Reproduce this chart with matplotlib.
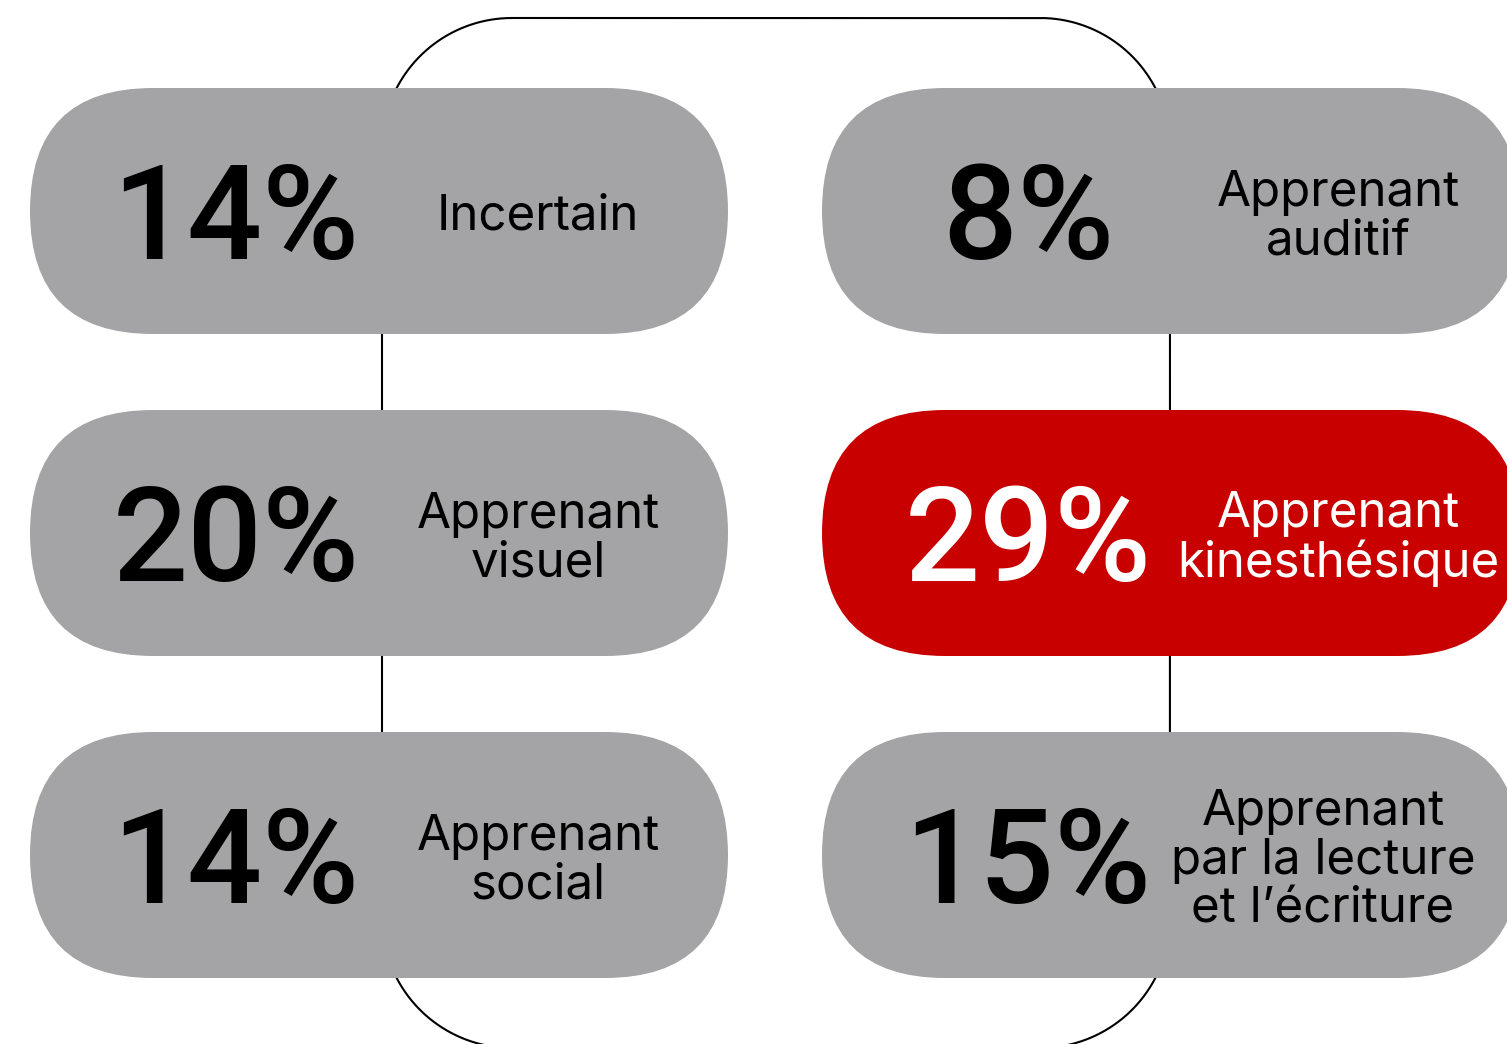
import numpy as np
import matplotlib.pyplot as plt
from matplotlib.patches import FancyBboxPatch

# Learning style shares (percent)
labels = ["Incertain", "Apprenant\nauditif", "Apprenant\nvisuel",
          "Apprenant\nkinesthésique", "Apprenant\nsocial",
          "Apprenant\npar la lecture\net l\u2019écriture"]
values = [14, 8, 20, 29, 14, 15]
highlight = [False, False, False, True, False, False]

GRAY = "#a4a4a6"
RED = "#c80000"

plt.rcParams['font.family'] = ['Inter', 'DejaVu Sans']

fig = plt.figure(figsize=(15.07, 10.44), dpi=100)
ax = fig.add_axes([0, 0, 1, 1])
ax.set_xlim(0, 1507)
ax.set_ylim(1044, 0)
ax.axis('off')

# connector frame behind the pills (rounded rectangle drawn by hand)
fx0, fx1, fy0, fy1, r = 382, 1170, 18, 1048, 130
t = np.linspace(0, np.pi / 2, 40)
xs = np.concatenate([fx0 + r - r * np.cos(t), fx1 - r + r * np.sin(t),
                     fx1 - r + r * np.cos(t), fx0 + r - r * np.sin(t)])
ys = np.concatenate([fy0 + r - r * np.sin(t), fy0 + r - r * np.cos(t),
                     fy1 - r + r * np.sin(t), fy1 - r + r * np.cos(t)])
ax.plot(np.append(xs, xs[0]), np.append(ys, ys[0]), color="black",
        linewidth=1.5, zorder=1, clip_on=False)

pill_w, pill_h = 698, 246
col_x = [30, 822]
row_y = [88, 410, 732]

for i, (lab, val, hi) in enumerate(zip(labels, values, highlight)):
    x0 = col_x[i % 2]
    y0 = row_y[i // 2]
    cy = y0 + pill_h / 2
    face = RED if hi else GRAY
    txt = "white" if hi else "black"
    pill = FancyBboxPatch((x0, y0), pill_w, pill_h,
                          boxstyle=f"round,pad=0,rounding_size={pill_h / 2}",
                          facecolor=face, edgecolor="none", zorder=2)
    ax.add_patch(pill)
    ax.text(x0 + 206, cy - 2, f"{val}%", fontsize=95, fontweight='medium',
            family=['Roboto', 'DejaVu Sans'],
            color=txt, ha='center', va='center_baseline', zorder=3)
    lx = x0 + 508 if i % 2 == 0 else x0 + 516
    if lab.count("\n") == 2:
        lx -= 15
    ax.text(lx, cy + 6, lab, fontsize=35.5, color=txt, ha='center',
            va='center', linespacing=1.08, zorder=3)

fig.savefig("out.png", dpi=100)
